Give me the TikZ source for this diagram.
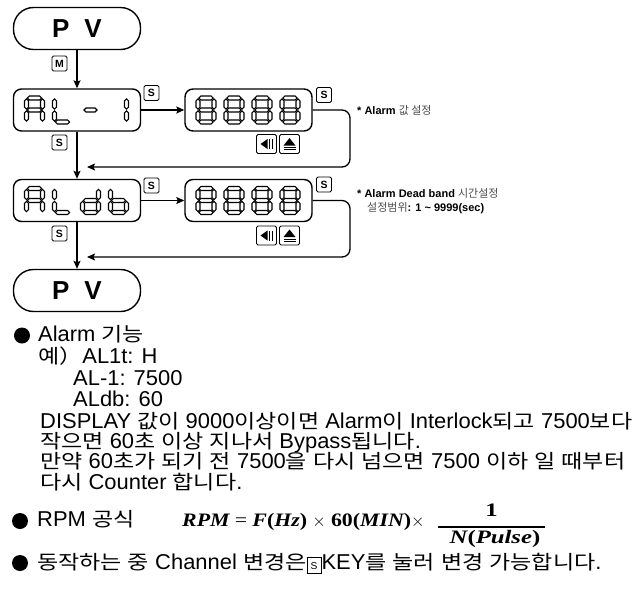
\documentclass[tikz,border=0pt]{standalone}
\usepackage{fontspec}
\usetikzlibrary{arrows.meta}
\setmainfont{Liberation Sans}
\newfontfamily\latf{Liberation Sans}[FakeStretch=1.02]
\newfontfamily\krf{Noto Sans CJK KR}[FakeStretch=1.18]
\newfontfamily\krn{Noto Sans CJK KR}
\newfontfamily\mf{Liberation Serif}[FakeStretch=1.15]
\newfontfamily\mfw{Liberation Serif}[FakeStretch=1.3]
\newcommand\K[1]{{\krf\fontsize{19.5}{19.5}\selectfont #1}}
\newcommand\G[1]{{\mdseries\krn\color{black!70}#1}}
\newcommand\skey{{\setlength{\fboxsep}{1.5pt}\setlength{\fboxrule}{0.7pt}\framebox[15pt]{\rule[-2.5pt]{0pt}{12pt}\fontsize{10}{10}\selectfont S}}}
% seven segment helpers
\newcommand\hs[3]{\draw[seg] ({#1},{#3}) -- ({#1+2},{#3-2}) -- ({#2-2},{#3-2}) -- ({#2},{#3}) -- ({#2-2},{#3+2}) -- ({#1+2},{#3+2}) -- cycle;}
\newcommand\vs[3]{\draw[seg] ({#1},{#2}) -- ({#1+2},{#2+2}) -- ({#1+2},{#3-2}) -- ({#1},{#3}) -- ({#1-2},{#3-2}) -- ({#1-2},{#2+2}) -- cycle;}
\newcommand\sga[2]{\hs{#1+2.9}{#1+17.1}{#2+2}}
\newcommand\sgg[2]{\hs{#1+2.9}{#1+17.1}{#2+14}}
\newcommand\sgd[2]{\hs{#1+2.9}{#1+17.1}{#2+26}}
\newcommand\sgf[2]{\vs{#1+2}{#2+2.9}{#2+13.1}}
\newcommand\sgb[2]{\vs{#1+18}{#2+2.9}{#2+13.1}}
\newcommand\sge[2]{\vs{#1+2}{#2+14.9}{#2+25.1}}
\newcommand\sgc[2]{\vs{#1+18}{#2+14.9}{#2+25.1}}
\newcommand\dEight[2]{\sga{#1}{#2}\sgb{#1}{#2}\sgc{#1}{#2}\sgd{#1}{#2}\sge{#1}{#2}\sgf{#1}{#2}\sgg{#1}{#2}}
\newcommand\dA[2]{\sga{#1}{#2}\sgb{#1}{#2}\sgc{#1}{#2}\sge{#1}{#2}\sgf{#1}{#2}\sgg{#1}{#2}}
\newcommand\dL[2]{\sgd{#1}{#2}\sge{#1}{#2}\sgf{#1}{#2}}
\newcommand\dMinus[2]{\hs{#1+3.5}{#1+16.5}{#2+14}}
\newcommand\dOne[2]{\sgb{#1}{#2}\sgc{#1}{#2}}
\newcommand\dd[2]{\sgb{#1}{#2}\sgc{#1}{#2}\sgd{#1}{#2}\sge{#1}{#2}\sgg{#1}{#2}}
\newcommand\db[2]{\sgc{#1}{#2}\sgd{#1}{#2}\sge{#1}{#2}\sgf{#1}{#2}\sgg{#1}{#2}}
\newcommand\pbglyph[1]{%
 \fill ([shift={(-6,0)}]#1.center) -- ([shift={(1,-5)}]#1.center) -- ([shift={(1,5)}]#1.center) -- cycle;
 \fill ([shift={(2.2,-5)}]#1.center) rectangle ([shift={(3.9,5)}]#1.center);
 \fill ([shift={(5,-5)}]#1.center) rectangle ([shift={(6.2,5)}]#1.center);}
\newcommand\ejglyph[1]{%
 \fill ([shift={(0,-6)}]#1.center) -- ([shift={(6,1.5)}]#1.center) -- ([shift={(-6,1.5)}]#1.center) -- cycle;
 \fill ([shift={(-6,3)}]#1.center) rectangle ([shift={(6,4)}]#1.center);
 \fill ([shift={(-6,5)}]#1.center) rectangle ([shift={(6,6)}]#1.center);}
\newcommand\mi[1]{{\mf\bfseries\itshape #1}}
\newcommand\mb[1]{{\mf\bfseries #1}}
\newcommand\mwi[1]{{\mfw\bfseries\itshape #1}}
\newcommand\mwb[1]{{\mfw\bfseries #1}}
\begin{document}
\begin{tikzpicture}[x=1pt,y=-1pt,
  seg/.style={draw=black,fill=white,line width=1.1pt,line join=miter},
  lcd/.style={draw,line width=1.4pt,rounded corners=8pt,minimum width=127pt,minimum height=42pt,inner sep=0pt},
  pill/.style={lcd,rounded corners=20pt,font=\bfseries\fontsize{26}{26}\selectfont},
  key/.style={draw,line width=0.8pt,rounded corners=1.5pt,minimum size=15pt,inner sep=0pt,font=\bfseries\fontsize{10.5}{10.5}\selectfont},
  ikey/.style={key,minimum width=20pt,minimum height=19pt},
  conn/.style={line width=1.3pt,-{Stealth[length=8pt,width=7pt,inset=1.5pt]}},
  body/.style={anchor=base west,inner sep=0pt,font=\latf\fontsize{21.5}{21.5}\selectfont},
  ann/.style={anchor=base west,inner sep=0pt,font=\bfseries\fontsize{11}{11}\selectfont},
  mth/.style={anchor=base west,inner sep=0pt,font=\fontsize{19}{19}\selectfont},
  bul/.style={circle,fill=black,minimum size=16pt,inner sep=0pt}]
\useasboundingbox (0,0) rectangle (632,598);
% boxes
\node[pill] (pv1) at (77,28.5) {P\hspace{15pt}V};
\node[lcd] (al1) at (77,110) {};
\node[lcd] (v1) at (248.5,110) {};
\node[lcd] (aldb) at (77,200.5) {};
\node[lcd] (v2) at (248.5,200.5) {};
\node[pill] (pv2) at (77,290.5) {P\hspace{15pt}V};
% seven segment contents
\dA{24.5}{96}\dL{52.5}{96}\dMinus{80.5}{96}\dOne{108.5}{96}
\dEight{196}{96}\dEight{224}{96}\dEight{252}{96}\dEight{280}{96}
\dA{24.5}{186.5}\dL{52.5}{186.5}\dd{80.5}{186.5}\db{108.5}{186.5}
\dEight{196}{186.5}\dEight{224}{186.5}\dEight{252}{186.5}\dEight{280}{186.5}
% keys
\node[key] (km) at (59.5,63.5) {M};
\node[key] (ks1) at (151.5,93) {S};
\node[key] (ks1d) at (59.5,142.5) {S};
\node[key] (ks1r) at (324,95) {S};
\node[key] (ks2) at (151.5,185.5) {S};
\node[key] (ks2d) at (59.5,233.5) {S};
\node[key] (ks2r) at (324,184.5) {S};
\node[ikey] (ic1a) at (266.5,144) {};
\node[ikey] (ic1b) at (289.5,144) {};
\node[ikey] (ic2a) at (266.5,235.5) {};
\node[ikey] (ic2b) at (289.5,235.5) {};
\pbglyph{ic1a}\ejglyph{ic1b}\pbglyph{ic2a}\ejglyph{ic2b}
% connectors
\coordinate (r1) at (87,167);
\coordinate (k1) at (350,167);
\coordinate (r2) at (87,257);
\coordinate (k2) at (350,257);
\draw[conn] (pv1.south) -- (al1.north);
\draw[conn] (al1.south) -- (aldb.north);
\draw[conn] (aldb.south) -- (pv2.north);
\draw[conn] (al1.east) -- (v1.west);
\draw[conn] (aldb.east) -- (v2.west);
\draw[conn,rounded corners=8pt] (v1.east) -| (k1) -- (r1);
\draw[conn,rounded corners=8pt] (v2.east) -| (k2) -- (r2);
% annotations
\node[ann] (n1) at (357,114) {* Alarm \G{값 설정}};
\node[ann] (n2) at (357,197) {* Alarm Dead band \G{시간설정}};
\node[ann] (n3) at (367,211) {\G{설정범위}: 1 \textasciitilde{} 9999(sec)};
% bullets and text
\node[bul] (b1) at (22,335.5) {};
\node[bul] (b2) at (20,521) {};
\node[bul] (b3) at (20,563) {};
\node[body] (t1) at (38,341.7) {Alarm \K{기능}};
\node[body] (t2) at (38,363) {\K{예）}AL1t: H};
\node[body] (t3) at (73,385) {AL-1: 7500};
\node[body] (t4) at (73,406) {ALdb: 60};
\node[body] (t5) at (40,428) {DISPLAY \K{값이} 9000\K{이상이면} Alarm\K{이} Interlock\K{되고} 7500\K{보다}};
\node[body] (t6) at (40,448) {\K{작으면} 60\K{초} \K{이상} \K{지나서} Bypass\K{됩니다}.};
\node[body] (t7) at (40,468.5) {\K{만약} 60\K{초가} \K{되기} \K{전} 7500\K{을} \K{다시} \K{넘으면} 7500 \K{이하} \K{일} \K{때부터}};
\node[body] (t8) at (40,489) {\K{다시} Counter \K{합니다}.};
\node[body] (t9) at (37,526.7) {RPM \K{공식}};
\node[mth] (fm) at (182,526.5)
  {\mi{RPM} {\mf =} \mi{F}\mb{(}\mi{Hz}\mb{)} {\mf$\times$} \mb{60(}\mi{MIN}\mb{)}{\mf$\times$}};
\node[mth,anchor=base] (fnum) at (491.5,516.5) {\mwb{1}};
\node[mth,anchor=base] (fden) at (495,543) {\mwi{N}\mwb{(}\mwi{Pulse}\mwb{)}};
\draw[line width=1.2pt] (438,527) -- (545,527);
\node[body] (t10) at (37,569) {\K{동작하는} \K{중} Channel \K{변경은}\skey KEY\K{를} \K{눌러} \K{변경} \K{가능합니다}.};
\end{tikzpicture}
\end{document}
